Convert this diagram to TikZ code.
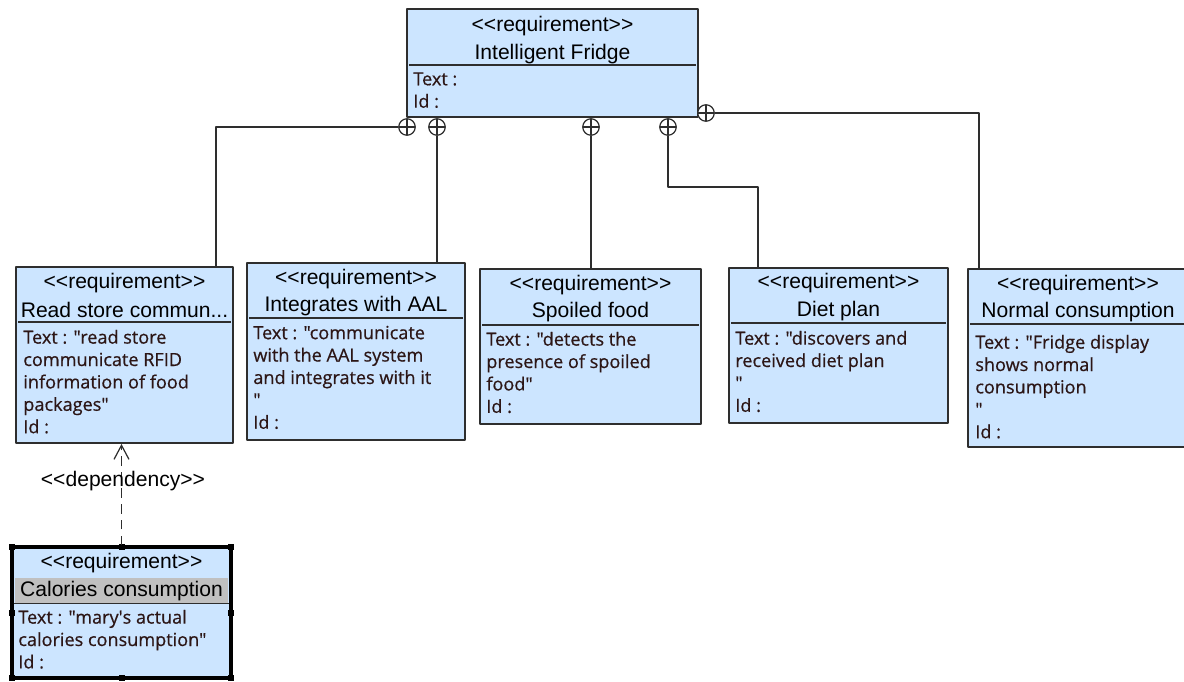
\documentclass[tikz,border=0pt]{standalone}
\usepackage{fontspec}
\setmainfont{Liberation Sans}
\newfontfamily\bodyfont[FakeBold=0.6]{Open Sans}
\usetikzlibrary{fit,arrows.meta,calc}
\definecolor{reqfill}{HTML}{CCE5FF}
\definecolor{reqline}{HTML}{2E2E2E}
\definecolor{bodytext}{HTML}{2C1616}
\definecolor{namehl}{HTML}{C0C0C0}
\newcommand{\stereo}[1]{<\kern0pt<#1>\kern0pt>}

\begin{document}
\begin{tikzpicture}[x=0.02cm,y=-0.02cm,line join=round,
	reqbox/.style={draw=reqline,fill=reqfill,line width=1.1pt,inner sep=0pt},
	selbox/.style={draw=black,fill=reqfill,line width=2.1pt,inner sep=0pt},
	stereo/.style={font=\fontsize{12}{14}\selectfont,inner sep=0pt},
	rname/.style={font=\fontsize{12}{14}\selectfont,inner sep=0pt},
	body/.style={font=\bodyfont\fontsize{10.3}{12.75}\selectfont,text=bodytext,align=left,anchor=north west,inner sep=0pt},
	divider/.style={draw=reqline,line width=1.1pt},
	link/.style={draw=reqline,line width=0.9pt},
	plus/.style={circle,draw=reqline,fill=white,line width=0.7pt,minimum size=0.33cm,inner sep=0pt,
		path picture={\draw[reqline,line width=0.7pt] (path picture bounding box.north) -- (path picture bounding box.south) (path picture bounding box.west) -- (path picture bounding box.east);}},
	dep/.style={draw=reqline,line width=0.7pt,dash pattern=on 5.5pt off 3.5pt,-{Straight Barb[length=8pt,width=8.5pt]}}]
	
	\useasboundingbox (0,0) rectangle (1184,681);
	
	% Intelligent Fridge
	\node[reqbox,fit={(407,9) (698,117)}] (fridge) {};
	\node[stereo] (fridgeS) at (552.5,26) {\stereo{requirement}};
	\node[rname] (fridgeN) at (552.5,54) {Intelligent Fridge};
	\draw[divider] (409,65) -- (696,65);
	\node[body] (fridgeT) at (413,72) {Text :\\Id :};
	
	% Read store
	\node[reqbox,fit={(16,267) (233,443)}] (rs) {};
	\node[stereo] (rsS) at (124.5,283) {\stereo{requirement}};
	\node[rname] (rsN) at (124.5,310) {Read store commun...};
	\draw[divider] (18,322) -- (231,322);
	\node[body] (rsT) at (23,329.5) {Text : "read store\\communicate RFID\\information of food\\packages"\\Id :};
	
	% Integrates with AAL
	\node[reqbox,fit={(247,263) (465,440)}] (ia) {};
	\node[stereo] (iaS) at (356,279) {\stereo{requirement}};
	\node[rname] (iaN) at (356,306) {Integrates with AAL};
	\draw[divider] (249,318) -- (463,318);
	\node[body] (iaT) at (253,325.5) {Text : "communicate\\with the AAL system\\and integrates with it\\"\\Id :};
	
	% Spoiled food
	\node[reqbox,fit={(480,269) (701,424)}] (sf) {};
	\node[stereo] (sfS) at (590.5,285) {\stereo{requirement}};
	\node[rname] (sfN) at (590.5,312) {Spoiled food};
	\draw[divider] (482,325) -- (699,325);
	\node[body] (sfT) at (486,331.5) {Text : "detects the\\presence of spoiled\\food"\\Id :};
	
	% Diet plan
	\node[reqbox,fit={(729,268) (948,423)}] (dp) {};
	\node[stereo] (dpS) at (838.5,283) {\stereo{requirement}};
	\node[rname] (dpN) at (838.5,311) {Diet plan};
	\draw[divider] (731,323) -- (946,323);
	\node[body] (dpT) at (735,330.5) {Text : "discovers and\\received diet plan\\"\\Id :};
	
	% Normal consumption
	\node[reqbox,fit={(968,269) (1190,447)}] (nc) {};
	\node[stereo] (ncS) at (1078,285) {\stereo{requirement}};
	\node[rname] (ncN) at (1078,312) {Normal consumption};
	\draw[divider] (970,324) -- (1190,324);
	\node[body] (ncT) at (975,334.5) {Text : "Fridge display\\shows normal\\consumption\\"\\Id :};
	
	% Calories consumption (selected)
	\node[selbox,fit={(12,547) (231,678)}] (cc) {};
	\fill[namehl] (15,578) rectangle (228,603);
	\node[stereo] (ccS) at (121.5,563) {\stereo{requirement}};
	\node[rname] (ccN) at (121.5,591) {Calories consumption};
	\draw[divider] (14,603.5) -- (229,603.5);
	\node[body] (ccT) at (18,609.5) {Text : "mary\textquotesingle s actual\\calories consumption"\\Id :};
	\foreach \hx/\hy in {12/547,121.5/547,231/547,12/612.5,231/612.5,12/678,121.5/678,231/678}
		\fill (\hx,\hy) ++(-3,-3) rectangle ++(6,6);
	
	% containment links
	\coordinate (rsIn) at (216,267);
	\coordinate (dpIn) at (758,268);
	\coordinate (ncIn) at (979,269);
	\node[plus] (p1) at (407,127) {};
	\node[plus] (p2) at (437,127) {};
	\node[plus] (p3) at (591,127) {};
	\node[plus] (p4) at (668,127) {};
	\node[plus] (p5) at (706,113) {};
	\draw[link] (p1.west) -| (rsIn);
	\draw[link] (p2.south) -- (p2.south |- ia.north);
	\draw[link] (p3.south) -- (p3.south |- sf.north);
	\draw[link] (p4.south) -- ++(0,51) -| (dpIn);
	\draw[link] (p5.east) -| (ncIn);
	
	% dependency
	\draw[dep] (cc.north) -- (cc.north |- rs.south);
	\node[stereo] (depL) at (123,481) {\stereo{dependency}};
	
\end{tikzpicture}
\end{document}
